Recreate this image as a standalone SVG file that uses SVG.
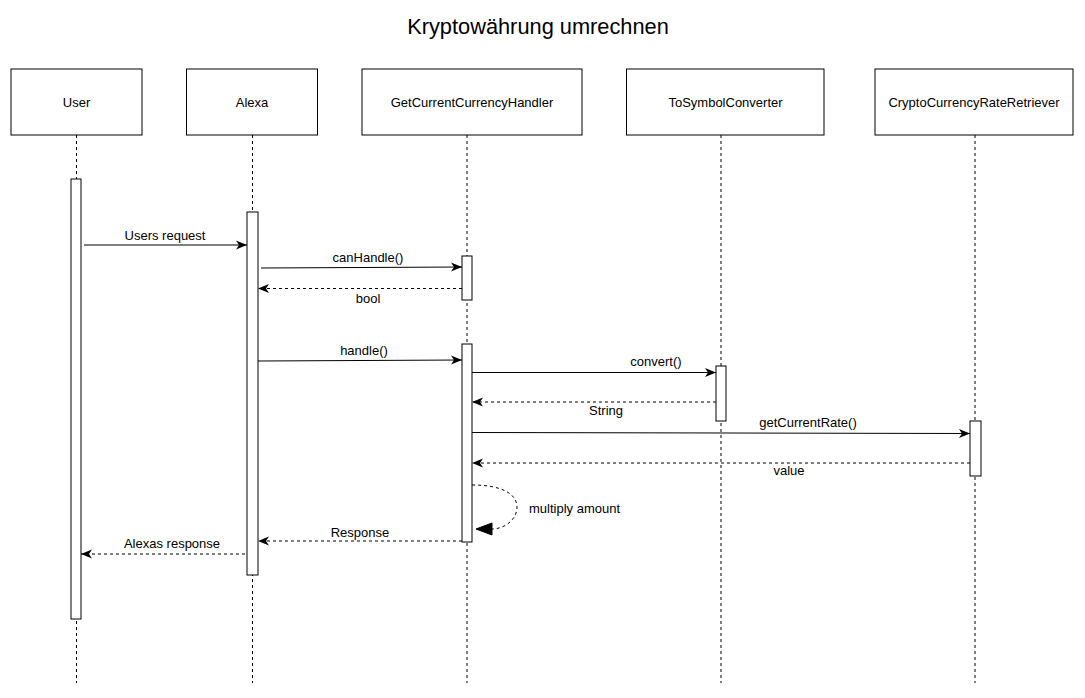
<svg xmlns="http://www.w3.org/2000/svg" width="1085" height="698" viewBox="0 0 1085 698">
<style>
text{font-family:"Liberation Sans",Arial,sans-serif;font-size:13px;fill:#000}
.title{font-size:21.8px}
.box{fill:#fff;stroke:#000;stroke-width:1}
.life{stroke:#000;stroke-width:1;stroke-dasharray:3,3;fill:none}
.act{fill:#fff;stroke:#000;stroke-width:1}
.msg{stroke:#000;stroke-width:1;fill:none;marker-end:url(#arr)}
.ret{stroke:#000;stroke-width:1;fill:none;stroke-dasharray:3,3;marker-end:url(#arr)}
.mid{text-anchor:middle}
</style>
<defs>
<marker id="arr" markerUnits="userSpaceOnUse" markerWidth="12" markerHeight="10" refX="11" refY="5" orient="auto">
<path d="M0,0.5 L11,5 L0,9.5 L3,5 z" fill="#000"/>
</marker>
</defs>
<rect width="1085" height="698" fill="#fff"/>
<text class="title mid" x="538" y="34">Kryptowährung umrechnen</text>

<g id="user">
<rect class="box" x="11" y="69" width="131" height="66"/>
<text class="mid" x="76.5" y="107">User</text>
<line class="life" x1="76.5" y1="135" x2="76.5" y2="683"/>
<rect class="act" x="71" y="179" width="10" height="440"/>
</g>
<g id="alexa">
<rect class="box" x="186.5" y="69" width="131" height="66"/>
<text class="mid" x="252" y="107">Alexa</text>
<line class="life" x1="252.5" y1="135" x2="252.5" y2="683"/>
<rect class="act" x="247" y="212" width="11" height="363"/>
</g>
<g id="handler">
<rect class="box" x="362" y="69" width="220" height="66"/>
<text class="mid" x="472" y="107">GetCurrentCurrencyHandler</text>
<line class="life" x1="467" y1="135" x2="467" y2="683"/>
<rect class="act" x="462" y="256" width="10" height="44"/>
<rect class="act" x="462" y="344" width="10" height="198"/>
</g>
<g id="converter">
<rect class="box" x="626.5" y="69" width="197.5" height="66"/>
<text class="mid" x="725.5" y="107">ToSymbolConverter</text>
<line class="life" x1="721" y1="135" x2="721" y2="683"/>
<rect class="act" x="716" y="366" width="10" height="55"/>
</g>
<g id="retriever">
<rect class="box" x="875" y="69" width="198" height="66"/>
<text class="mid" x="974" y="107">CryptoCurrencyRateRetriever</text>
<line class="life" x1="975" y1="135" x2="975" y2="683"/>
<rect class="act" x="970" y="421" width="11" height="55"/>
</g>

<g id="connectors">
<line class="msg" x1="84" y1="245" x2="247" y2="245"/>
<text class="mid" x="165" y="240">Users request</text>
<line class="msg" x1="261" y1="268" x2="462" y2="267"/>
<text class="mid" x="368" y="262">canHandle()</text>
<line class="ret" x1="462" y1="288.5" x2="258" y2="288.5"/>
<text class="mid" x="368" y="303">bool</text>
<line class="msg" x1="258" y1="361" x2="462" y2="360"/>
<text class="mid" x="364" y="355">handle()</text>
<line class="msg" x1="472" y1="372.5" x2="716" y2="372.5"/>
<text class="mid" x="656" y="366">convert()</text>
<line class="ret" x1="716" y1="402" x2="472" y2="402"/>
<text class="mid" x="606" y="415">String</text>
<line class="msg" x1="472" y1="432.5" x2="970" y2="433.5"/>
<text class="mid" x="808" y="427">getCurrentRate()</text>
<line class="ret" x1="970" y1="463" x2="472" y2="463"/>
<text class="mid" x="789" y="475">value</text>
<path d="M472,485 C502,485 517,494 517,507 C517,520 504,529 492,529" stroke="#000" stroke-width="1" fill="none" stroke-dasharray="3,3"/>
<polygon points="476,529 492,523 492,535" fill="#000" stroke="#000" stroke-width="1"/>
<text x="529" y="513">multiply amount</text>
<line class="ret" x1="462" y1="541" x2="258" y2="541"/>
<text class="mid" x="360" y="537">Response</text>
<line class="ret" x1="245" y1="554" x2="81" y2="554"/>
<text class="mid" x="172" y="548">Alexas response</text>
</g>
</svg>
